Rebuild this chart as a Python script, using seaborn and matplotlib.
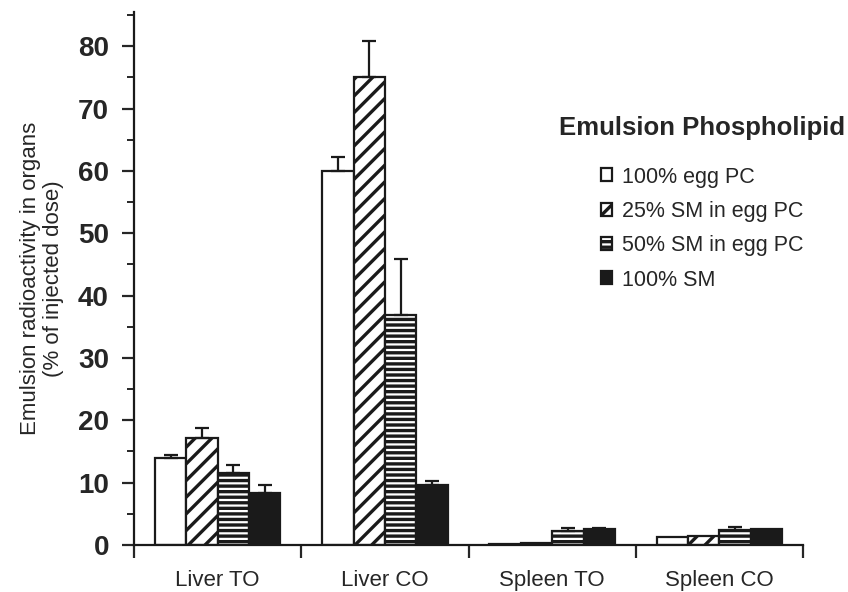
import numpy as np
import pandas as pd
import seaborn as sns
import matplotlib.pyplot as plt
from matplotlib.ticker import MultipleLocator

sns.set_style("ticks")
plt.rcParams['font.family'] = ['Liberation Sans', 'DejaVu Sans']
plt.rcParams['hatch.linewidth'] = 2.4
plt.rcParams['hatch.color'] = 'black'

# values
organs = ["Liver TO", "Liver CO", "Spleen TO", "Spleen CO"]
groups = ["100% egg PC", "25% SM in egg PC", "50% SM in egg PC", "100% SM"]
egg_pc = [14.0, 60.0, 0.1, 1.3]
sm25 = [17.2, 75.0, 0.4, 1.4]
sm50 = [11.6, 36.9, 2.3, 2.4]
sm100 = [8.3, 9.7, 2.6, 2.6]
err_egg_pc = [0.5, 2.3, 0.0, 0.0]
err_sm25 = [1.5, 5.8, 0.0, 0.0]
err_sm50 = [1.3, 9.0, 0.5, 0.5]
err_sm100 = [1.3, 0.5, 0.2, 0.0]

values = [egg_pc, sm25, sm50, sm100]
errors = [err_egg_pc, err_sm25, err_sm50, err_sm100]

df = pd.DataFrame({
    "organ": np.tile(organs, len(groups)),
    "group": np.repeat(groups, len(organs)),
    "value": np.concatenate(values),
})

fig = plt.figure(figsize=(8.48, 5.92), dpi=100)
ax = fig.add_axes([0.158, 0.0794, 0.789, 0.9003])

sns.barplot(data=df, x="organ", y="value", hue="group", order=organs,
            hue_order=groups, palette=["white", "white", "white", "#1a1a1a"],
            width=0.75, edgecolor="#1a1a1a", linewidth=1.6, errorbar=None,
            saturation=1, legend=False, ax=ax)

hatches = ["", "//", "---", ""]
for cont, h, err in zip(ax.containers, hatches, errors):
    for patch in cont:
        patch.set_hatch(h)
    xs, ys, es = [], [], []
    for patch, e in zip(cont, err):
        if e > 0:
            xs.append(patch.get_x() + patch.get_width() / 2)
            ys.append(patch.get_height())
            es.append(e)
    if xs:
        ax.errorbar(xs, ys, yerr=[np.zeros(len(es)), es], fmt="none",
                    ecolor="#1a1a1a", elinewidth=1.6, capsize=5, capthick=1.6)

# axes styling
ax.set_xlim(-0.5, 3.5)
ax.set_ylim(0, 85.5)
ax.set_xticks(np.arange(-0.5, 4, 1))
ax.set_xticklabels([])
ax.set_xticks(range(len(organs)), minor=True)
ax.set_xticklabels(organs, minor=True, fontsize=16)
ax.tick_params(axis="x", which="major", length=9, width=1.6, direction="out")
ax.tick_params(axis="x", which="minor", length=0, pad=18)
ax.yaxis.set_major_locator(MultipleLocator(10))
ax.yaxis.set_minor_locator(MultipleLocator(5))
ax.tick_params(axis="y", which="major", length=9, width=1.6, labelsize=20, pad=9)
ax.tick_params(axis="y", which="minor", length=5, width=1.4)
for lab in ax.get_yticklabels():
    lab.set_fontweight("bold")
ax.set_xlabel("")
ax.set_ylabel("Emulsion radioactivity in organs\n(% of injected dose)",
              fontsize=16, labelpad=10, linespacing=1.1)
sns.despine(ax=ax)
for side in ["left", "bottom"]:
    ax.spines[side].set_linewidth(1.6)
    ax.spines[side].set_color("#1a1a1a")

leg = ax.legend(handles=list(ax.containers[:4]), labels=groups,
                title="Emulsion Phospholipid", loc="upper center",
                bbox_to_anchor=(0.828, 0.822), bbox_transform=fig.transFigure,
                frameon=False, fontsize=15.5, handlelength=0.55, handleheight=0.55,
                handletextpad=0.45, labelspacing=0.62, borderpad=0)
leg.get_title().set_fontweight("bold")
leg.get_title().set_fontsize(18.5)
leg._legend_box.sep = 19

fig.savefig("out.png", dpi=100)
